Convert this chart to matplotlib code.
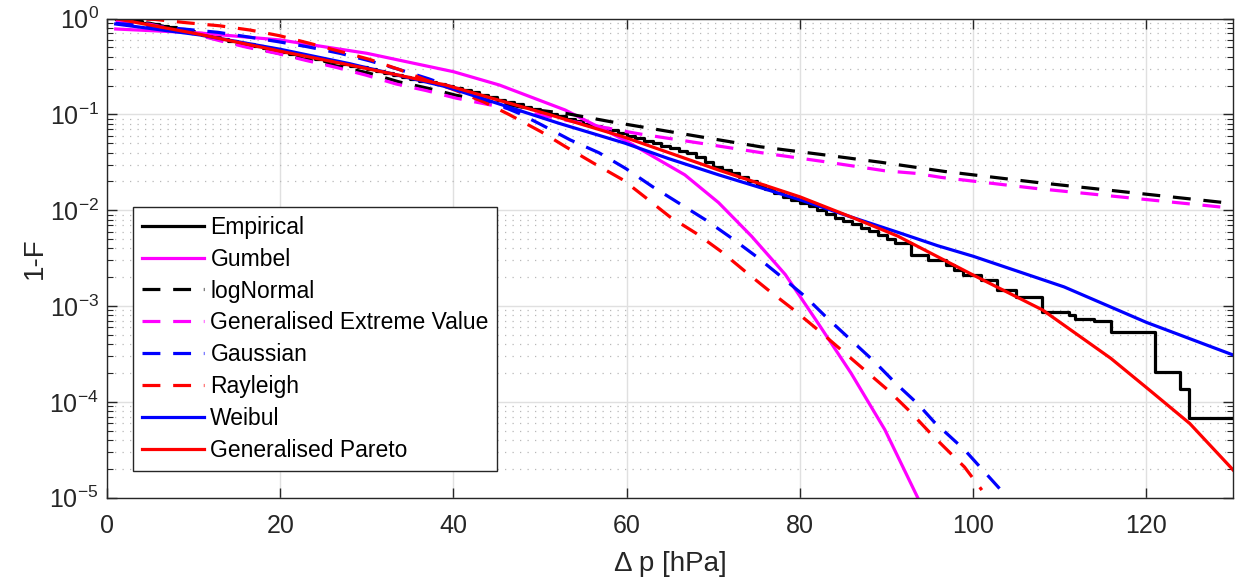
import numpy as np
from matplotlib import pyplot as plt

plt.rcParams['font.family'] = ['Liberation Sans', 'DejaVu Sans']
plt.rcParams['mathtext.fontset'] = 'custom'
plt.rcParams['mathtext.rm'] = 'Liberation Sans'

# values, stored as log10(1-F)

# empirical exceedance (step curve)
emp_x = [1, 2, 3, 4, 5, 6, 7, 8, 9, 10, 11, 12, 13, 14, 15, 16, 17, 18, 19, 20,
         21, 22, 23, 24, 25, 26, 27, 28, 29, 30, 31, 32, 33, 34, 35, 36, 37, 38, 39, 40,
         41, 42, 43, 44, 45, 46, 47, 48, 49, 50, 51, 52, 53, 54, 55, 56, 57, 58, 59, 60,
         61, 62, 63, 64, 65, 66, 67, 68, 69, 70, 71, 72, 73, 74, 75, 76, 77, 78, 79, 80,
         81, 82, 83, 84, 85, 86, 87, 88, 89, 90, 91, 92.8, 94.8, 96.9, 97.8, 98.8,
         100.9, 102.8, 104.9, 108, 111.1, 111.8, 114, 115.9, 121, 123.9, 124.9, 130]
emp_lg = [0.0, -0.015, -0.03, -0.045, -0.06, -0.075, -0.09, -0.11, -0.13, -0.15,
          -0.17, -0.19, -0.21, -0.23, -0.25, -0.27, -0.29, -0.31, -0.33, -0.35,
          -0.365, -0.38, -0.40, -0.42, -0.44, -0.455, -0.47, -0.49, -0.51, -0.53,
          -0.55, -0.57, -0.59, -0.61, -0.63, -0.65, -0.665, -0.68, -0.70, -0.72,
          -0.745, -0.77, -0.795, -0.82, -0.845, -0.87, -0.895, -0.92, -0.945, -0.97,
          -0.995, -1.02, -1.045, -1.07, -1.095, -1.12, -1.145, -1.165, -1.19, -1.22,
          -1.25, -1.275, -1.30, -1.325, -1.35, -1.38, -1.40, -1.44, -1.50, -1.55,
          -1.58, -1.61, -1.65, -1.69, -1.74, -1.78, -1.82, -1.86, -1.89, -1.92,
          -1.96, -2.00, -2.04, -2.08, -2.11, -2.14, -2.18, -2.22, -2.26, -2.30,
          -2.346, -2.47, -2.52, -2.57, -2.625, -2.68, -2.73, -2.83, -2.90, -3.06,
          -3.095, -3.13, -3.16, -3.27, -3.686, -3.87, -4.166, -4.166]

gum_x = [1, 10.7, 20, 30, 40, 45.3, 52.9, 60, 66.7, 70.6, 74.4, 78.3, 82.1, 85.9, 89.8, 93.6]
gum_lg = [-0.108, -0.150, -0.223, -0.362, -0.554, -0.693, -0.954, -1.28, -1.63, -1.92,
          -2.27, -2.67, -3.18, -3.70, -4.29, -5.0]

logn_x = [1, 5, 10, 13.2, 15.9, 19.7, 23.1, 26.8, 30.3, 33.7, 37.2, 40.3, 42.1, 47,
          50.2, 53, 58.1, 61.4, 68.5, 75.4, 83, 89.4, 93.4, 96.7, 107.4, 129, 130]
logn_lg = [-0.005, -0.05, -0.15, -0.223, -0.286, -0.36, -0.43, -0.50, -0.57, -0.66,
           -0.73, -0.80, -0.83, -0.91, -0.96, -0.99, -1.075, -1.125, -1.233, -1.337,
           -1.424, -1.50, -1.552, -1.595, -1.71, -1.92, -1.925]

gev_x = [1, 5, 10, 13.2, 16.2, 19.6, 23, 26.5, 29.9, 33.4, 36.8, 40.3, 47, 53, 58.8,
         61.6, 68.5, 75.8, 82.6, 89.8, 93.4, 96.3, 107, 129, 130]
gev_lg = [-0.02, -0.06, -0.16, -0.235, -0.30, -0.362, -0.437, -0.51, -0.59, -0.683,
          -0.75, -0.83, -0.95, -1.06, -1.16, -1.205, -1.30, -1.403, -1.49, -1.588,
          -1.615, -1.657, -1.77, -1.97, -1.98]

gau_x = [1, 5.5, 12.8, 16.2, 19.7, 23.1, 26.9, 30.3, 33.7, 37.2, 40.6, 44.4, 47.6,
         50.2, 53.5, 56.8, 59.9, 63, 66.1, 69.1, 72.1, 75, 77.8, 80.6, 83.2, 85.9,
         88.6, 91.1, 93.6, 95.5, 99, 104]
gau_lg = [-0.05, -0.08, -0.143, -0.19, -0.24, -0.293, -0.362, -0.44, -0.53, -0.63,
          -0.74, -0.87, -0.99, -1.11, -1.267, -1.40, -1.565, -1.755, -1.93, -2.10,
          -2.29, -2.485, -2.69, -2.90, -3.13, -3.355, -3.58, -3.81, -4.02, -4.21,
          -4.50, -5.0]

ray_x = [1, 5.5, 9.2, 13, 16.5, 19.9, 23.4, 26.8, 30.3, 33.7, 36.8, 40, 43.5, 46.4,
         50.1, 53, 56.2, 59.6, 62.3, 65, 68, 70.9, 73.7, 76.3, 79.3, 82.1, 84.8, 87.5,
         90.2, 92.7, 95.3, 99, 101]
ray_lg = [0.0, -0.008, -0.043, -0.075, -0.119, -0.178, -0.258, -0.34, -0.425, -0.53,
          -0.64, -0.74, -0.87, -1.0, -1.18, -1.34, -1.51, -1.685, -1.876, -2.07,
          -2.24, -2.43, -2.64, -2.83, -3.04, -3.25, -3.46, -3.67, -3.88, -4.10,
          -4.35, -4.68, -4.92]

wei_x = [1, 10.7, 20, 28, 39.1, 52.2, 59.8, 64.8, 70.6, 80, 85.9, 91.3, 95.9, 100,
         110.5, 120, 130]
wei_lg = [-0.056, -0.17, -0.32, -0.47, -0.71, -1.093, -1.30, -1.46, -1.63, -1.89,
          -2.07, -2.23, -2.37, -2.48, -2.80, -3.17, -3.51]

gp_x = [1, 10.7, 20, 28, 39.1, 51, 59.5, 70.6, 80, 85.9, 91.3, 95.9, 100, 108,
        115.9, 120.4, 125, 129.7, 130]
gp_lg = [0.0, -0.164, -0.34, -0.484, -0.693, -1.0, -1.23, -1.58, -1.86, -2.07,
         -2.27, -2.485, -2.676, -3.04, -3.546, -3.88, -4.225, -4.68, -4.71]

fig = plt.figure(figsize=(12.36, 5.82), dpi=100)
ax = fig.add_axes([0.0866, 0.1448, 0.911, 0.8232])

lw = 2.3
dash = (5.6, 4)
ax.plot(emp_x, 10**np.array(emp_lg), color='k', lw=lw, drawstyle='steps-post', label='Empirical')
ax.plot(gum_x, 10**np.array(gum_lg), color='#ff00ff', lw=lw, label='Gumbel')
ax.plot(logn_x, 10**np.array(logn_lg), color='k', lw=lw, dashes=dash, label='logNormal')
ax.plot(gev_x, 10**np.array(gev_lg), color='#ff00ff', lw=lw, dashes=dash,
        label='Generalised Extreme Value')
ax.plot(gau_x, 10**np.array(gau_lg), color='#0000ff', lw=lw, dashes=dash, label='Gaussian')
ax.plot(ray_x, 10**np.array(ray_lg), color='#ff0000', lw=lw, dashes=dash, label='Rayleigh')
ax.plot(wei_x, 10**np.array(wei_lg), color='#0000ff', lw=lw, label='Weibul')
ax.plot(gp_x, 10**np.array(gp_lg), color='#ff0000', lw=lw, label='Generalised Pareto')

ax.set_yscale('log')
ax.set_xlim(0, 130)
ax.set_ylim(1e-5, 1)
ax.set_xticks([0, 20, 40, 60, 80, 100, 120])
ax.set_yticks([1e-5, 1e-4, 1e-3, 1e-2, 1e-1, 1])

ax.grid(True, which='major', color='#e0e0e0', lw=1)
ax.grid(True, which='minor', axis='y', color='#b8b8b8', lw=0.9, linestyle=(0, (1, 5)))
ax.set_axisbelow(True)

for s in ax.spines.values():
    s.set_color('#262626')
    s.set_linewidth(1)
ax.tick_params(which='both', direction='in', top=True, right=True, color='#262626',
               labelcolor='#262626', labelsize=18)
ax.tick_params(which='major', length=7, width=1)
ax.tick_params(which='minor', length=4, width=0.8)
ax.tick_params(axis='x', which='major', pad=12)
ax.tick_params(axis='y', which='major', pad=6)
ax.tick_params(axis='x', which='minor', bottom=False, top=False)

ax.set_xlabel('Δ p [hPa]', fontsize=20, color='#262626', labelpad=9)
ax.set_ylabel('1-F', fontsize=20, color='#262626', labelpad=1)

leg = ax.legend(loc='lower left', bbox_to_anchor=(0.023, 0.056), borderaxespad=0,
                fontsize=16.5, handlelength=2.7, handletextpad=0.3, labelspacing=0.39,
                borderpad=0.38, fancybox=False, framealpha=1, edgecolor='#262626')
leg.get_frame().set_linewidth(1)

plt.savefig('out.png', dpi=100)
